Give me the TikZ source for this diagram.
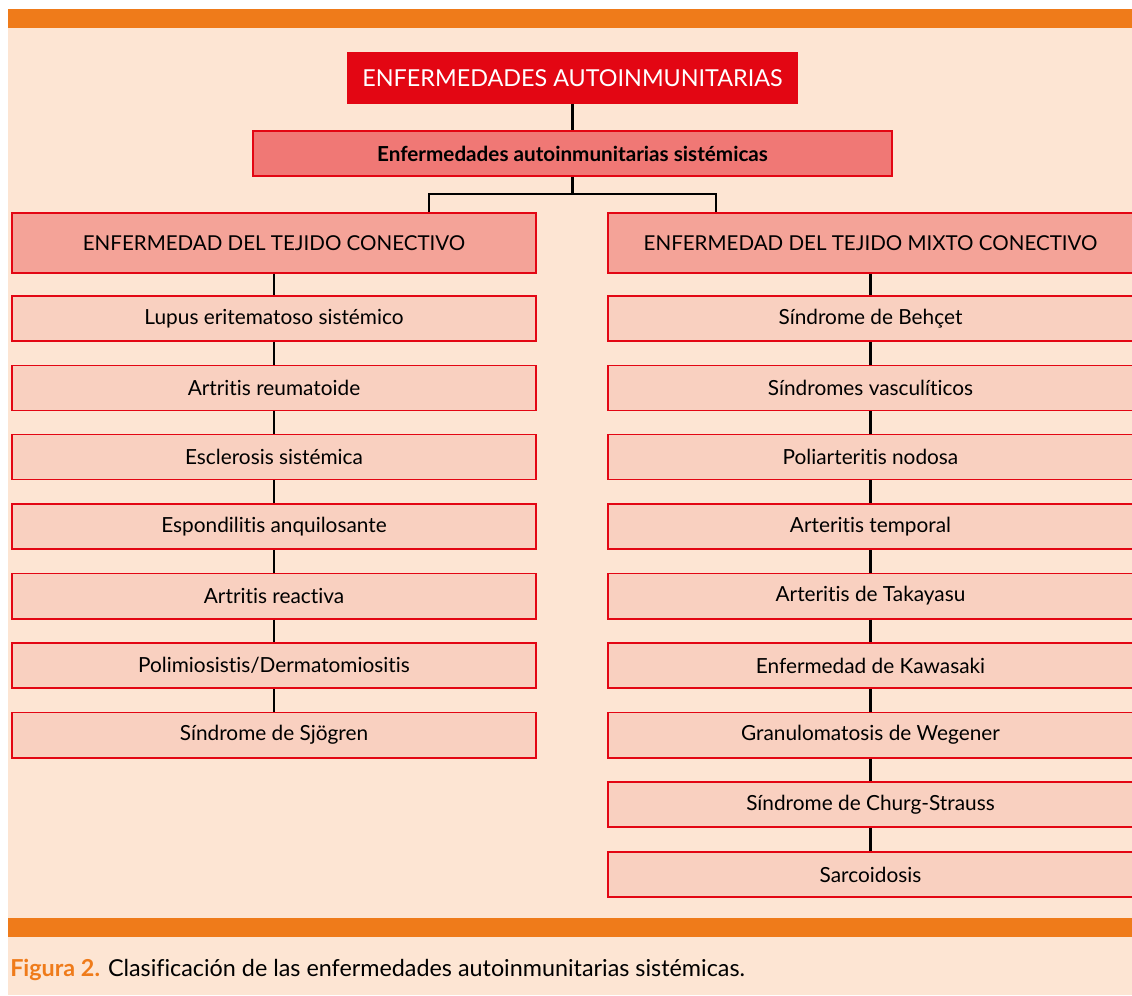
\documentclass[tikz,border=0pt]{standalone}
\usepackage{fontspec}
\setmainfont{Lato}[Ligatures=NoCommon]
\usetikzlibrary{positioning}
\definecolor{accent}{HTML}{E30613}
\definecolor{band}{HTML}{EF7B1A}
\definecolor{paper}{HTML}{FDE5D3}
\definecolor{rose}{HTML}{F07875}
\definecolor{salmon}{HTML}{F4A398}
\definecolor{blush}{HTML}{F9D0C0}

\begin{document}
\begin{tikzpicture}[
  x = 0.025cm, y = -0.025cm,
  box/.style = {draw=accent, line width=1.4pt, inner sep=0pt, align=center},
  title/.style = {box, fill=accent, text=white, minimum width=11.225cm,
    minimum height=1.25cm, font=\fontsize{16.6pt}{19pt}\selectfont},
  group/.style = {box, fill=rose, minimum width=15.975cm, minimum height=1.125cm,
    font=\fontsize{14.7pt}{17pt}\selectfont\bfseries},
  head/.style = {box, fill=salmon, minimum width=13.1cm, minimum height=1.5cm,
    font=\fontsize{14.6pt}{17pt}\selectfont},
  item/.style = {box, fill=blush, minimum width=13.1cm, minimum height=1.125cm,
    font=\fontsize{14.8pt}{17pt}\selectfont},
  conn/.style = {line width=1.5pt, black},
]

  % page
  \useasboundingbox (0,0) rectangle (1132,995);
  \fill[paper] (8,28) rectangle (1132,995);
  \fill[band] (8,9) rectangle (1132,28);
  \fill[band] (8,918) rectangle (1132,937);

  \node[title] (t0) at (572.5,78) {ENFERMEDADES AUTOINMUNITARIAS};
  \node[group] (s0) at (572.5,153.5) {Enfermedades autoinmunitarias sistémicas};

  \node[head] (h0) at (274,243) {ENFERMEDAD DEL TEJIDO CONECTIVO};
  \node[head] (h1) at (870.5,243) {ENFERMEDAD DEL TEJIDO MIXTO CONECTIVO};

  \node[item] (l0) at (274,318.5) {Lupus eritematoso sistémico};
  \node[item] (l1) at (274,388) {Artritis reumatoide};
  \node[item] (l2) at (274,457) {Esclerosis sistémica};
  \node[item] (l3) at (274,526.5) {Espondilitis anquilosante};
  \node[item] (l4) at (274,596) {Artritis reactiva};
  \node[item] (l5) at (274,665.5) {Polimiosistis/Dermatomiositis};
  \node[item] (l6) at (274,735) {Síndrome de Sjögren};

  \node[item] (r0) at (870.5,318.5) {Síndrome de Behçet};
  \node[item] (r1) at (870.5,388) {Síndromes vasculíticos};
  \node[item] (r2) at (870.5,457) {Poliarteritis nodosa};
  \node[item] (r3) at (870.5,526.5) {Arteritis temporal};
  \node[item] (r4) at (870.5,596) {Arteritis de Takayasu};
  \node[item] (r5) at (870.5,665.5) {Enfermedad de Kawasaki};
  \node[item] (r6) at (870.5,735) {Granulomatosis de Wegener};
  \node[item] (r7) at (870.5,804.5) {Síndrome de Churg-Strauss};
  \node[item] (r8) at (870.5,874.5) {Sarcoidosis};

  \coordinate (j0) at (429,194);
  \coordinate (j1) at (716,194);

  \draw[conn] (t0) -- (s0);
  \draw[conn] (s0.south) -- (s0.south |- j0);
  \draw[conn] (j0 |- h0.north) -- (j0) -- (j1) -- (j1 |- h1.north);

  \draw[conn] (h0) -- (l0);
  \draw[conn] (l0) -- (l1);
  \draw[conn] (l1) -- (l2);
  \draw[conn] (l2) -- (l3);
  \draw[conn] (l3) -- (l4);
  \draw[conn] (l4) -- (l5);
  \draw[conn] (l5) -- (l6);

  \draw[conn] (h1) -- (r0);
  \draw[conn] (r0) -- (r1);
  \draw[conn] (r1) -- (r2);
  \draw[conn] (r2) -- (r3);
  \draw[conn] (r3) -- (r4);
  \draw[conn] (r4) -- (r5);
  \draw[conn] (r5) -- (r6);
  \draw[conn] (r6) -- (r7);
  \draw[conn] (r7) -- (r8);

  \node[anchor=west, inner sep=0pt, font=\fontsize{16.6pt}{19pt}\selectfont] (c0) at (10,970)
    {{\color{band}\bfseries Figura 2.} Clasificación de las enfermedades autoinmunitarias sistémicas.};

\end{tikzpicture}
\end{document}
